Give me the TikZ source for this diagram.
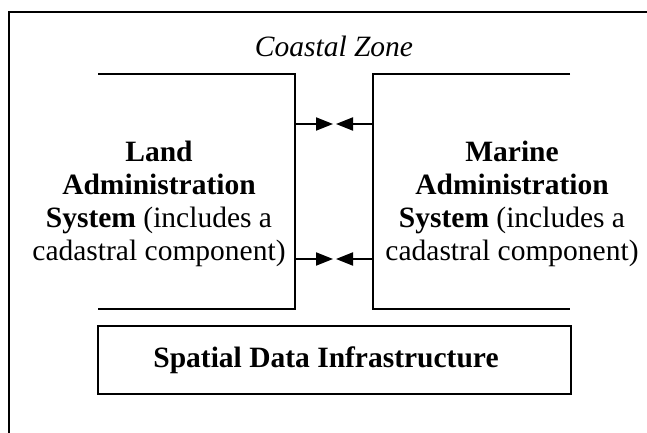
\documentclass[tikz,border=0pt]{standalone}
\usepackage{fontspec}
\setmainfont{Liberation Serif}
\usetikzlibrary{arrows.meta}
\begin{document}
\begin{tikzpicture}[x=1pt,y=-1pt,
  frame/.style={line width=2pt},
  sysline/.style={line width=2pt},
  link/.style={line width=2pt,-{Triangle[length=17pt,width=13pt]}},
  txt/.style={font=\fontsize{29.5}{33}\selectfont,inner sep=0pt},
  block/.style={txt,align=center,anchor=base}]
\useasboundingbox (0,0) rectangle (647,433);
% outer frame (cropped)
\draw[frame] (9,440) -- (9,12) -- (655,12);
% title
\node[txt,anchor=base,font=\fontsize{29.5}{33}\selectfont\itshape] (cz) at (334,57) {Coastal Zone};
% land system outline
\coordinate (lt) at (98,74);
\coordinate (ltr) at (295,74);
\coordinate (lbr) at (295,309);
\coordinate (lb) at (98,309);
\draw[sysline] (lt) -- (ltr) -- (lbr) -- (lb);
% marine system outline
\coordinate (rt) at (570,74);
\coordinate (rtl) at (373,74);
\coordinate (rbl) at (373,309);
\coordinate (rb) at (570,309);
\draw[sysline] (rt) -- (rtl) -- (rbl) -- (rb);
% texts (anchor = baseline of the last line)
\node[block] (land) at (159,260) {\textbf{Land}\\\textbf{Administration}\\\textbf{System} (includes a\\cadastral component)};
\node[block] (marine) at (512,260) {\textbf{Marine}\\\textbf{Administration}\\\textbf{System} (includes a\\cadastral component)};
% arrows
\coordinate (a1) at (295,124);
\coordinate (a1t) at (333,124);
\coordinate (b1) at (373,124);
\coordinate (b1t) at (336,124);
\coordinate (a2) at (295,259);
\coordinate (a2t) at (333,259);
\coordinate (b2) at (373,259);
\coordinate (b2t) at (336,259);
\draw[link] (a1) -- (a1t);
\draw[link] (b1) -- (b1t);
\draw[link] (a2) -- (a2t);
\draw[link] (b2) -- (b2t);
% SDI
\node[draw,frame,minimum width=473pt,minimum height=68pt,inner sep=0pt] (sdi) at (334.5,360) {};
\node[txt,anchor=base,font=\fontsize{29.5}{33}\selectfont\bfseries] (sdit) at (326,367) {Spatial Data Infrastructure};
\end{tikzpicture}
\end{document}
